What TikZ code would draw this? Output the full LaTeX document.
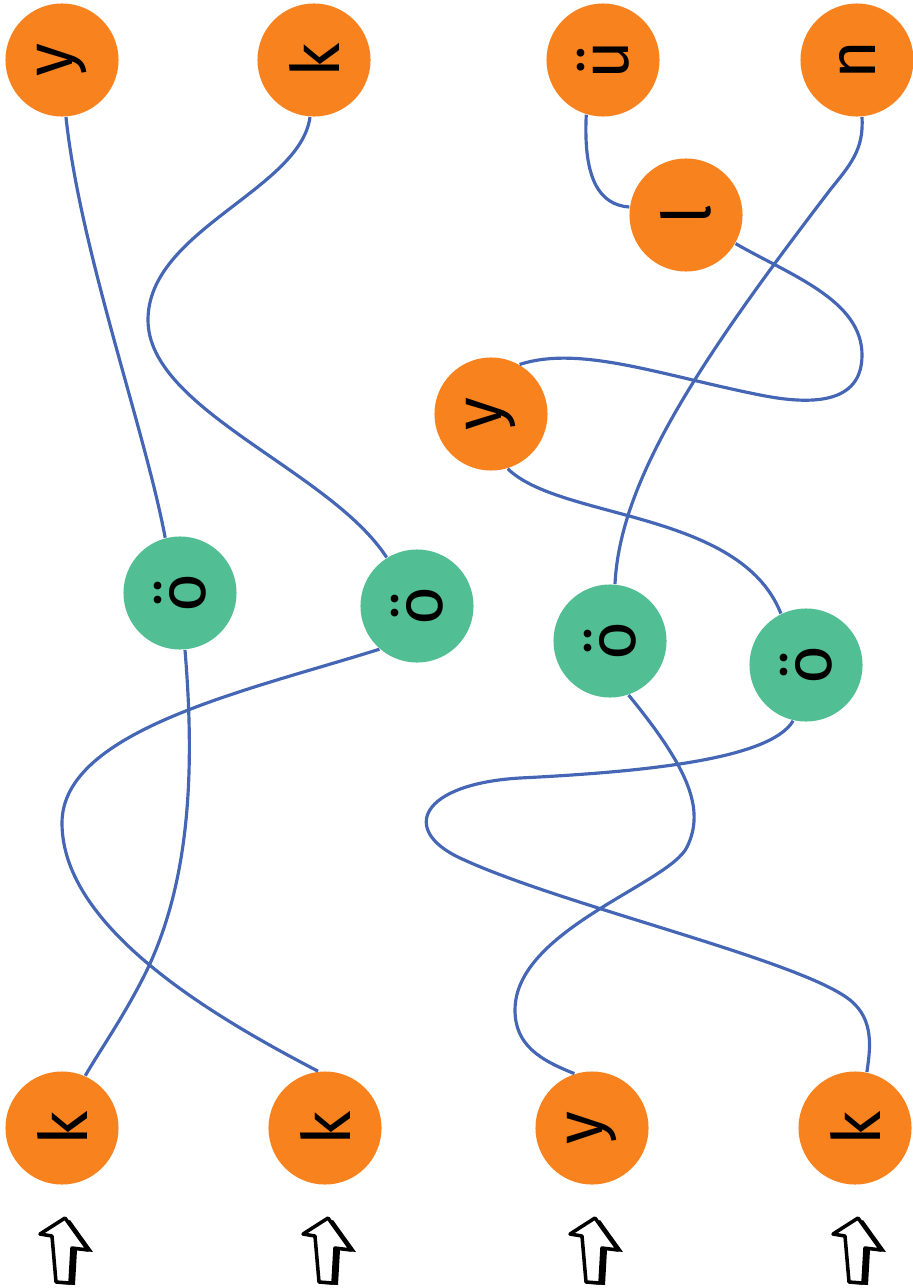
\documentclass[tikz,border=0pt]{standalone}
\usepackage{fontspec}
\setmainfont{Fira Sans}
\definecolor{soundorange}{HTML}{F7821E}
\definecolor{soundgreen}{HTML}{52BE93}
\definecolor{wireblue}{HTML}{4466B4}
\newcommand\turned[1]{\rotatebox{90}{#1}}

\begin{document}
\begin{tikzpicture}[x=0.01cm,y=-0.01cm,
    sound/.style={circle,fill=soundorange,minimum size=1.13cm,inner sep=0pt,
      font=\fontsize{19}{19}\selectfont},
    vowel/.style={sound,fill=soundgreen},
    wire/.style={wireblue,line width=0.9pt}]
  \useasboundingbox (0,0) rectangle (912,1288);
  % top row
  \node[sound] (y1) at (62,60) {\turned{y}};
  \node[sound] (k1) at (314,60) {\turned{k}};
  \node[sound] (ue) at (603,60) {\turned{ü}};
  \node[sound] (n) at (857,60) {\turned{n}};
  \node[sound] (l) at (686,215) {\turned{l}};
  \node[sound] (y2) at (491,414) {\turned{y}};
  % vowels
  \node[vowel] (o1) at (180,593) {\turned{ö}};
  \node[vowel] (o2) at (417,606) {\turned{ö}};
  \node[vowel] (o3) at (610,641) {\turned{ö}};
  \node[vowel] (o4) at (806,665) {\turned{ö}};
  % bottom row
  \node[sound] (k2) at (62,1128) {\turned{k}};
  \node[sound] (k3) at (325,1128) {\turned{k}};
  \node[sound] (y3) at (592,1128) {\turned{y}};
  \node[sound] (k4) at (855,1128) {\turned{k}};
  % wires
  \draw[wire] (y1.-86) .. controls (80,250) and (145,430) .. (o1.105);
  \draw[wire] (k1.-94) .. controls (300,190) and (148,230) .. (148,320)
    .. controls (148,410) and (330,470) .. (o2.122);
  \draw[wire] (ue.-107) .. controls (583,180) and (600,205) .. (l.172);
  \draw[wire] (l.-30) .. controls (790,275) and (862,300) .. (862,355)
    .. controls (862,405) and (810,405) .. (760,395)
    .. controls (660,375) and (580,345) .. (y2.60);
  \draw[wire] (n.-85) .. controls (864,150) and (850,165) .. (830,190)
    .. controls (700,360) and (620,480) .. (o3.85);
  \draw[wire] (y2.-73) .. controls (560,520) and (740,510) .. (o4.116);
  \draw[wire] (o1.-85) .. controls (195,770) and (190,880) .. (147,970)
    .. controls (125,1015) and (100,1050) .. (k2.66);
  \draw[wire] (o2.-131) .. controls (250,690) and (62,730) .. (62,823)
    .. controls (62,930) and (220,1020) .. (k3.97);
  \draw[wire] (o3.-71) .. controls (690,770) and (705,810) .. (687,847)
    .. controls (669,884) and (515,930) .. (515,1010)
    .. controls (515,1045) and (540,1060) .. (y3.108);
  \draw[wire] (o4.-103) .. controls (770,760) and (640,772) .. (520,778)
    .. controls (420,784) and (400,830) .. (460,858)
    .. controls (560,905) and (800,960) .. (850,1000)
    .. controls (875,1020) and (870,1050) .. (k4.78);
  % arrows under the bottom row
  \foreach \x in {62,325,592,855}{
    \begin{scope}[shift={(\x,1250)}]
      \fill[black] (8,-30) -- (-17,-14) -- (-5,-12) -- (-1,34) -- (13,35) -- (15,0) -- (31,2) -- cycle;
      \draw[line width=1pt,fill=white,line join=round]
        (3,-32) -- (-22,-16) -- (-10,-14) -- (-6,32) -- (8,33) -- (10,-2) -- (26,0) -- cycle;
    \end{scope}
  }
\end{tikzpicture}
\end{document}
